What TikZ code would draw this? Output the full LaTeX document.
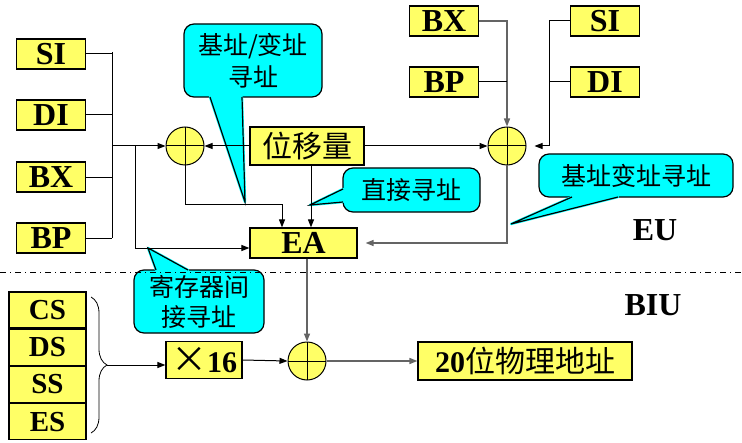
\documentclass[tikz,border=0pt]{standalone}
\usepackage{fontspec}
\setmainfont{Liberation Serif}
\newfontfamily\cjk{Noto Sans CJK SC}
\usetikzlibrary{%
	calc,%
	arrows.meta,%
	positioning,%
	decorations.pathreplacing,%
}
\definecolor{cyellow}{RGB}{255, 255, 102}
\definecolor{ccyan}{RGB}{0, 255, 255}
\definecolor{cgrayline}{RGB}{100, 100, 100}
\newcommand{\regname}[1]{\textbf{#1}}
\newcommand{\cjkname}[1]{{\cjk #1}}
% pointer of a callout: two base points on its border, then the tip
\newcommand{\callptr}[3]{%
	\filldraw[ccyan, line width=1.2pt, line join=round] #1 -- #3 -- #2 -- cycle;%
	\draw[line width=0.6pt] #1 -- #3 -- #2;%
}
\tikzset{
	>={Triangle[length=4pt,width=3pt]},%
	reg/.style={%
			draw,%
			rectangle,%
			line width=0.6pt,%
			fill=cyellow,%
			inner sep=0pt,%
			minimum width=34.5pt,%
			minimum height=15pt,%
			font=\fontsize{16}{16}\selectfont},%
	segreg/.style={%
			reg,%
			minimum width=38.5pt,%
			minimum height=18pt,%
			font=\fontsize{14.5}{14.5}\selectfont},%
	valbox/.style={%
			draw,%
			rectangle,%
			line width=0.6pt,%
			fill=cyellow,%
			inner sep=0pt,%
			minimum height=19pt,%
			font=\fontsize{15}{15}\selectfont},%
	adder/.style={%
			circle,%
			draw,%
			line width=0.5pt,%
			fill=cyellow,%
			inner sep=0pt,%
			minimum size=19pt,%
			path picture={%
					\draw (path picture bounding box.north) -- (path picture bounding box.south)%
					(path picture bounding box.west) -- (path picture bounding box.east);}},%
	callbox/.style={%
			draw,%
			rectangle,%
			line width=0.6pt,%
			rounded corners=5pt,%
			fill=ccyan,%
			inner sep=0pt,%
			align=center,%
			font=\cjk\fontsize{12.5}{16}\selectfont},%
	unitlabel/.style={%
			font=\fontsize{16}{16}\selectfont\bfseries},%
	grayline/.style={%
			cgrayline,%
			line width=0.7pt},%
}

\begin{document}
\begin{tikzpicture}[x=0.5pt, y=-0.5pt, line width=0.5pt]%
	\useasboundingbox (0,0) rectangle (742,443);

	% callouts
	\node[callbox, minimum width=69pt, minimum height=36.5pt] (cbase) at (253,60.5) {基址/变址\\寻址};
	\callptr{(210,97)}{(242,97)}{(245,202)}
	\node[callbox, minimum width=68.5pt, minimum height=22pt] (cdirect) at (411.5,190) {直接寻址};
	\callptr{(343,189)}{(343,202)}{(310,205)}
	\node[callbox, minimum width=97pt, minimum height=21.5pt] (cindex) at (636,175.5) {基址变址寻址};
	\callptr{(572,197)}{(618,197)}{(511,224)}
	\node[callbox, minimum width=65pt, minimum height=31.5pt, font=\cjk\fontsize{12.5}{15}\selectfont] (cindir) at (199,301.5) {寄存器间\\接寻址};
	\callptr{(156,270)}{(188,270)}{(148,248)}

	\draw[dash dot, line width=0.5pt] (0,272) -- (742,272);

	% EU
	\node[reg] (lsi) at (51,54) {\regname{SI}};
	\node[reg] (ldi) at (51,115) {\regname{DI}};
	\node[reg] (lbx) at (51,177) {\regname{BX}};
	\node[reg] (lbp) at (51,238) {\regname{BP}};
	\node[reg] (rbx) at (444,21) {\regname{BX}};
	\node[reg] (rbp) at (444,82) {\regname{BP}};
	\node[reg] (rsi) at (605,21) {\regname{SI}};
	\node[reg] (rdi) at (605,82) {\regname{DI}};

	\node[adder] (addl) at (185,146) {};
	\node[adder] (addr) at (507,146) {};
	\node[valbox, minimum width=57pt] (disp) at (307,146) {\cjkname{位移量}};
	\node[reg, minimum width=53.5pt] (ea) at (303.5,243) {\regname{EA}};

	\coordinate (bus) at (112,146);
	\coordinate (busl) at (135,146);
	\coordinate (turn) at (282,204);
	\coordinate (busr) at (549,146);

	\draw (112,52) -- (lbp.east -| bus);
	\foreach \r in {lsi,ldi,lbx,lbp} {
		\draw (\r.east) -- (\r.east -| bus);
	}
	\draw[->] (bus) -- (addl.west);
	\draw[->] (busl) |- ($(ea.west)+(0,5)$);
	\draw[->] (disp.west) -- (addl.east);
	\draw[->] (disp.east) -- (addr.west);
	\draw[->] (addl.south) |- (turn) -- (turn |- ea.north);
	\draw[->] ([xshift=2pt]disp.south) -- ([xshift=2pt]disp.south |- ea.north);

	\draw[->, grayline] (rbx.east) -| (addr.north);
	\draw (rbp.east) -- (rbp.east -| addr);
	\draw[->, shorten >=4pt] (rsi.west) -| (busr) -- (addr.east);
	\draw (rdi.west) -- (rdi.west -| busr);
	\draw[->, grayline, shorten >=4pt] (addr.south) |- (ea.east);

	\node[unitlabel] (eu) at (655,230) {EU};

	% BIU
	\node[segreg] (cs) at (47.5,310) {\regname{CS}};
	\node[segreg, below=0pt of cs] (ds) {\regname{DS}};
	\node[segreg, below=0pt of ds] (ss) {\regname{SS}};
	\node[segreg, below=0pt of ss] (es) {\regname{ES}};
	\draw[decorate, decoration={brace, amplitude=8pt}, line width=0.4pt] (91,297) -- (91,433);
	\coordinate (bracetip) at (107,365);

	\node[valbox, minimum width=38pt, minimum height=18.5pt] (times) at (204,360) {{\cjk\fontsize{18}{18}\selectfont ×}\regname{16}};
	\node[adder] (addb) at (307,361) {};
	\node[valbox, minimum width=107pt] (phys) at (525,361) {\regname{20}\cjkname{位物理地址}};

	\draw[->] (bracetip) -- (bracetip -| times.west);
	\draw[->] (times.east) -- (addb.west);
	\draw[->, grayline] (ea.south -| addb) -- (addb.north);
	\draw[->, grayline] (addb.east) -- (phys.west);

	\node[unitlabel] (biu) at (653,305) {BIU};
\end{tikzpicture}
\end{document}
